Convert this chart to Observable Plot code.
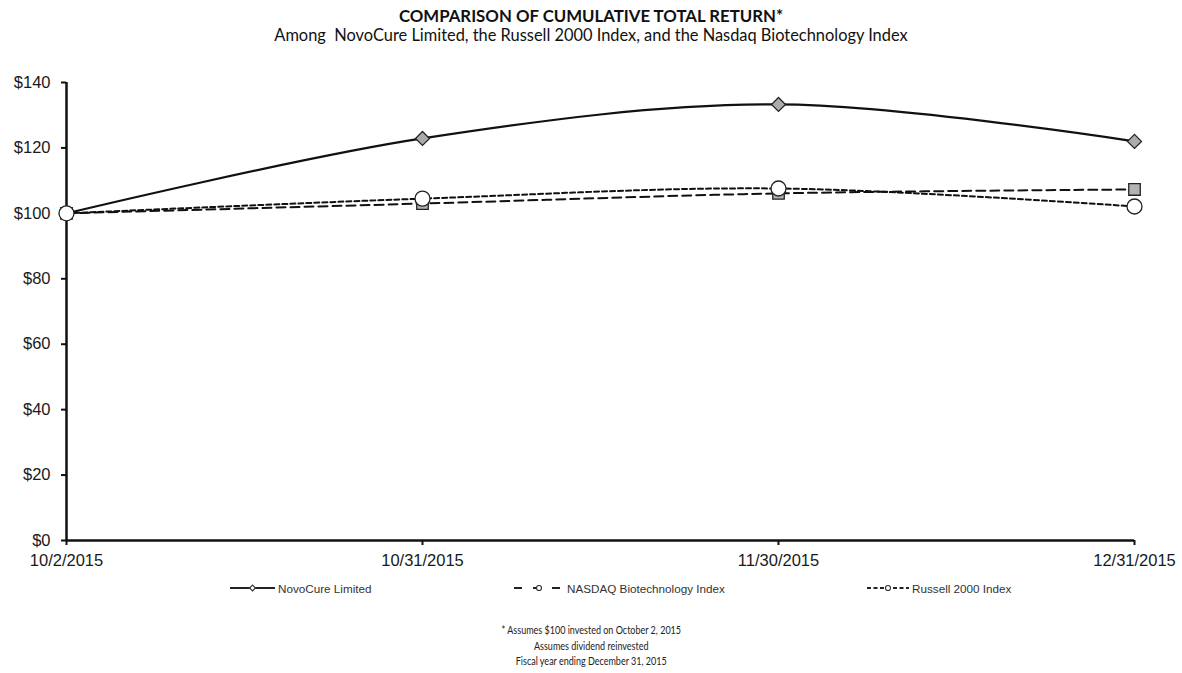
<!DOCTYPE html>
<html><head><meta charset="utf-8">
<script src="https://cdn.jsdelivr.net/npm/d3@7"></script>
<script src="https://cdn.jsdelivr.net/npm/@observablehq/plot@0.6"></script>
<style>
body{margin:0;background:#fff;width:1182px;height:673px;overflow:hidden;position:relative;}
.abs{position:absolute;left:0;width:1182px;text-align:center;}
#title{top:5px;font:bold 16.8px Lato, "Open Sans", sans-serif;color:#111;}
#subtitle{top:25px;font:16.4px Lato, "Open Sans", sans-serif;color:#111;}
#chart{position:absolute;top:48px;left:0;}
#legend{position:absolute;top:579px;left:0;width:1182px;height:18px;font:11.7px "Liberation Sans", Arial, sans-serif;color:#333;}
.item{position:absolute;top:0;display:flex;align-items:center;height:18px;}
.item svg{margin-right:3px;}
#foot{top:622px;font:12px Lato, "Open Sans", sans-serif;color:#222;line-height:15.5px;transform:scaleX(0.75);transform-origin:592px 0;}
</style>
</head><body>
<div id="title" class="abs"></div>
<div id="subtitle" class="abs"></div>
<div id="chart"></div>
<div id="legend"></div>
<div id="foot" class="abs"></div>
<script>
// ---- data ----
const titleText = "COMPARISON OF CUMULATIVE TOTAL RETURN*";
const subtitleText = "Among\u00a0 NovoCure Limited, the Russell 2000 Index, and the Nasdaq Biotechnology Index";
const dates = ["10/2/2015", "10/31/2015", "11/30/2015", "12/31/2015"];
const seriesNames = ["NovoCure Limited", "NASDAQ Biotechnology Index", "Russell 2000 Index"];
const novocure = [100, 122.9, 133.3, 122.0];
const nasdaqBiotech = [100, 103.0, 106.1, 107.3];
const russell2000 = [100, 104.5, 107.6, 102.1];
const yTicks = [0, 20, 40, 60, 80, 100, 120, 140];
const footnotes = ["* Assumes $100 invested on October 2, 2015", "Assumes dividend reinvested", "Fiscal year ending December 31, 2015"];

document.getElementById("title").textContent = titleText;
document.getElementById("subtitle").textContent = subtitleText;
const foot = d3.select("#foot");
footnotes.forEach(t => foot.append("div").text(t));

const seriesValues = [novocure, nasdaqBiotech, russell2000];
const rows = [];
seriesValues.forEach((vals, i) => vals.forEach((v, j) => rows.push({series: seriesNames[i], date: dates[j], value: v})));

const styles = [
  {dash: null, width: 2.2, symbol: "diamond2", fill: "#ababab", r: 6.3},
  {dash: "9,5", width: 2, symbol: "square", fill: "#b3b3b3", r: 6.5},
  {dash: "5,3", width: 2, symbol: "circle", fill: "#ffffff", r: 7.5}
];

const lineMarks = seriesNames.map((name, i) => Plot.line(rows.filter(d => d.series === name), {
  x: "date", y: "value", stroke: "#111", strokeWidth: styles[i].width,
  strokeDasharray: styles[i].dash, curve: "catmull-rom"
}));
const dotMarks = seriesNames.map((name, i) => Plot.dot(rows.filter(d => d.series === name), {
  x: "date", y: "value", symbol: () => styles[i].symbol, r: styles[i].r,
  fill: styles[i].fill, stroke: "#222", strokeWidth: 1.3
}));

const chart = Plot.plot({
  width: 1182, height: 527,
  marginLeft: 66, marginRight: 48, marginTop: 34, marginBottom: 35,
  style: {fontFamily: "'Liberation Sans', Arial, sans-serif", fontSize: "16.5px", color: "#1a1a1a", background: "transparent"},
  x: {type: "point", domain: dates, padding: 0, label: null},
  y: {domain: [0, 140], label: null},
  symbol: {type: "identity"},
  marks: [
    Plot.axisY({ticks: yTicks, tickFormat: d => "$" + d, tickSize: 5, tickPadding: 11, stroke: "#111", strokeWidth: 2, label: null}),
    Plot.axisX({tickSize: 5, tickPadding: 9, stroke: "#111", strokeWidth: 2, label: null}),
    Plot.ruleX([dates[0]], {stroke: "#111", strokeWidth: 2.5}),
    Plot.ruleY([0], {stroke: "#111", strokeWidth: 2.5}),
    ...lineMarks,
    ...dotMarks
  ]
});
document.getElementById("chart").appendChild(chart);

// ---- legend ----
const legendLeft = [230, 514, 867];
const sampleW = [45, 50, 42];
const legend = d3.select("#legend");
seriesNames.forEach((name, i) => {
  const item = legend.append("div").attr("class", "item").style("left", legendLeft[i] + "px");
  const w = sampleW[i];
  const svg = item.append("svg").attr("width", w).attr("height", 10);
  svg.append("line").attr("x1", 0).attr("x2", w).attr("y1", 5).attr("y2", 5)
    .attr("stroke", "#222").attr("stroke-width", 1.8)
    .attr("stroke-dasharray", i === 0 ? null : (i === 1 ? "8,11" : "4,2.5"));
  const cx = w / 2;
  const sym = i === 0 ? d3.symbolDiamond2 : d3.symbolCircle;
  svg.append("path").attr("transform", `translate(${cx},5)`)
    .attr("d", d3.symbol(sym, i === 0 ? 22 : 20)())
    .attr("fill", "#fff").attr("stroke", "#333").attr("stroke-width", 1.1);
  item.append("span").text(name);
});
</script>
</body></html>
